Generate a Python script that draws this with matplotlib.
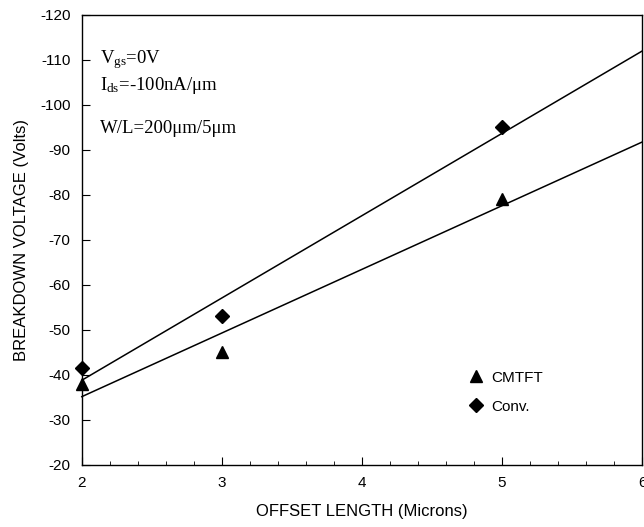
import matplotlib.pyplot as plt
import numpy as np

offset = np.array([2, 3, 5])
cmtft_bv = np.array([-38, -45, -79])
conv_bv = np.array([-41.5, -53, -95])

plt.rcParams["font.family"] = ["Liberation Sans", "DejaVu Sans"]
plt.rcParams["axes.unicode_minus"] = False
plt.rcParams["mathtext.fontset"] = "custom"
plt.rcParams["mathtext.rm"] = "Liberation Serif"
plt.rcParams["mathtext.it"] = "Liberation Serif:italic"

fig = plt.figure(figsize=(6.44, 5.27), dpi=100)
ax = fig.add_axes([0.127, 0.118, 0.870, 0.854])

x_fit = np.array([2, 6])
for y in (conv_bv, cmtft_bv):
    p = np.polyfit(offset, y, 1)
    ax.plot(x_fit, np.polyval(p, x_fit), color="black", lw=1.1, clip_on=False)

ax.plot(offset, cmtft_bv, "^", color="black", ms=8, ls="none", label="CMTFT", clip_on=False)
ax.plot(offset, conv_bv, "D", color="black", ms=7, ls="none", label="Conv.", clip_on=False)

ax.set_xlim(2, 6)
ax.set_ylim(-20, -120)
ax.set_xticks([2, 3, 4, 5, 6])
ax.set_yticks(np.arange(-20, -121, -10))
ax.set_xticks(np.arange(2, 6.01, 0.2), minor=True)
ax.tick_params(axis="both", which="both", direction="in", labelsize=11)
ax.tick_params(axis="both", which="major", length=6, pad=8)
ax.tick_params(axis="x", which="minor", length=3)
for s in ax.spines.values():
    s.set_linewidth(1.0)

ax.set_xlabel("OFFSET LENGTH (Microns)", fontsize=12, labelpad=10)
ax.set_ylabel("BREAKDOWN VOLTAGE (Volts)", fontsize=12, labelpad=8)

serif = ["Liberation Serif", "DejaVu Serif"]
ax.text(0.032, 0.892, r"V$_{\mathrm{gs}}$=0V", transform=ax.transAxes, fontsize=13.5, family=serif)
ax.text(0.032, 0.832, r"I$_{\mathrm{ds}}$=-100nA/μm", transform=ax.transAxes, fontsize=13.5, family=serif)
ax.text(0.032, 0.738, "W/L=200μm/5μm", transform=ax.transAxes, fontsize=13.5, family=serif)

ax.legend(loc="upper left", bbox_to_anchor=(0.665, 0.24), frameon=False,
          handlelength=1.0, handletextpad=0.5, labelspacing=1.0, fontsize=11, numpoints=1)

fig.savefig("out.png", dpi=100)
